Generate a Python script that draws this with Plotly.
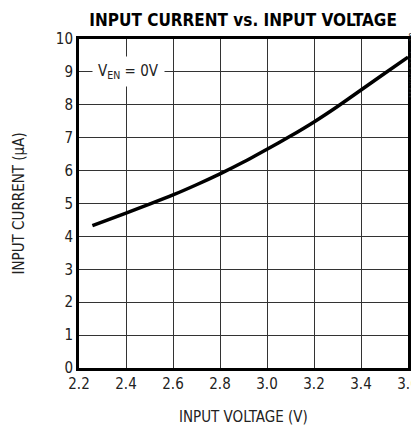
import plotly.graph_objects as go

voltage = [2.257, 2.4, 2.5, 2.6, 2.7, 2.8, 2.9, 3.0, 3.1, 3.2, 3.3, 3.4, 3.5, 3.6]
current = [4.33, 4.71, 4.98, 5.26, 5.57, 5.9, 6.26, 6.65, 7.05, 7.48, 7.95, 8.45, 8.95, 9.45]

x_ticks = [2.2, 2.4, 2.6, 2.8, 3.0, 3.2, 3.4, 3.6]
x_tick_labels = ["2.2", "2.4", "2.6", "2.8", "3.0", "3.2", "3.4", "3.6"]
y_ticks = list(range(0, 11))

FONT = "DejaVu Sans Condensed, sans-serif"
TXT = "#222222"

fig = go.Figure()
fig.add_trace(go.Scatter(x=voltage, y=current, mode="lines",
                         line=dict(color="black", width=3.5, shape="spline", smoothing=0.5),
                         showlegend=False, hoverinfo="skip"))

axis_common = dict(showgrid=True, gridcolor="#333333", gridwidth=1,
                   showline=True, linecolor="black", linewidth=3, mirror=True,
                   ticks="", zeroline=False, automargin=False,
                   tickfont=dict(family=FONT, size=15, color=TXT))

fig.update_xaxes(range=[2.2, 3.6], tickvals=x_ticks, ticktext=x_tick_labels, **axis_common)
fig.update_yaxes(range=[0, 10], tickvals=y_ticks, **axis_common)

# axis titles
fig.add_annotation(x=0.5, y=0, xref="paper", yref="paper", text="INPUT VOLTAGE (V)",
                   showarrow=False, xanchor="center", yanchor="middle", yshift=-49,
                   font=dict(family=FONT, size=15, color=TXT))
fig.add_annotation(x=0, y=0.5, xref="paper", yref="paper", text="INPUT CURRENT (μA)",
                   showarrow=False, textangle=-90, xanchor="center", yanchor="middle", xshift=-61,
                   font=dict(family=FONT, size=15, color=TXT))

fig.add_annotation(x=2.41, y=9, xref="x", yref="y", text="V<sub>EN</sub> = 0V",
                   showarrow=False, bgcolor="white", borderpad=5,
                   font=dict(family=FONT, size=15, color=TXT))

fig.add_annotation(x=1.0, y=1.0, xref="paper", yref="paper", text="MAX8643A toc10",
                   textangle=-90, showarrow=False, xanchor="center", yanchor="top",
                   xshift=5, yshift=9,
                   font=dict(family=FONT, size=8.5, color=TXT))

# page body has an 8px margin; compensate so the plot lands where the reference has it
fig.update_layout(
    width=411, height=417,
    margin=dict(l=71, r=11, t=31, b=57, autoexpand=False),
    plot_bgcolor="white", paper_bgcolor="white",
    title=dict(text="<b>INPUT CURRENT vs. INPUT VOLTAGE</b>", x=0.572, xanchor="center",
               y=0.985, yanchor="top",
               font=dict(family=FONT, size=17, color="black")),
)

fig.write_html("out.html")
